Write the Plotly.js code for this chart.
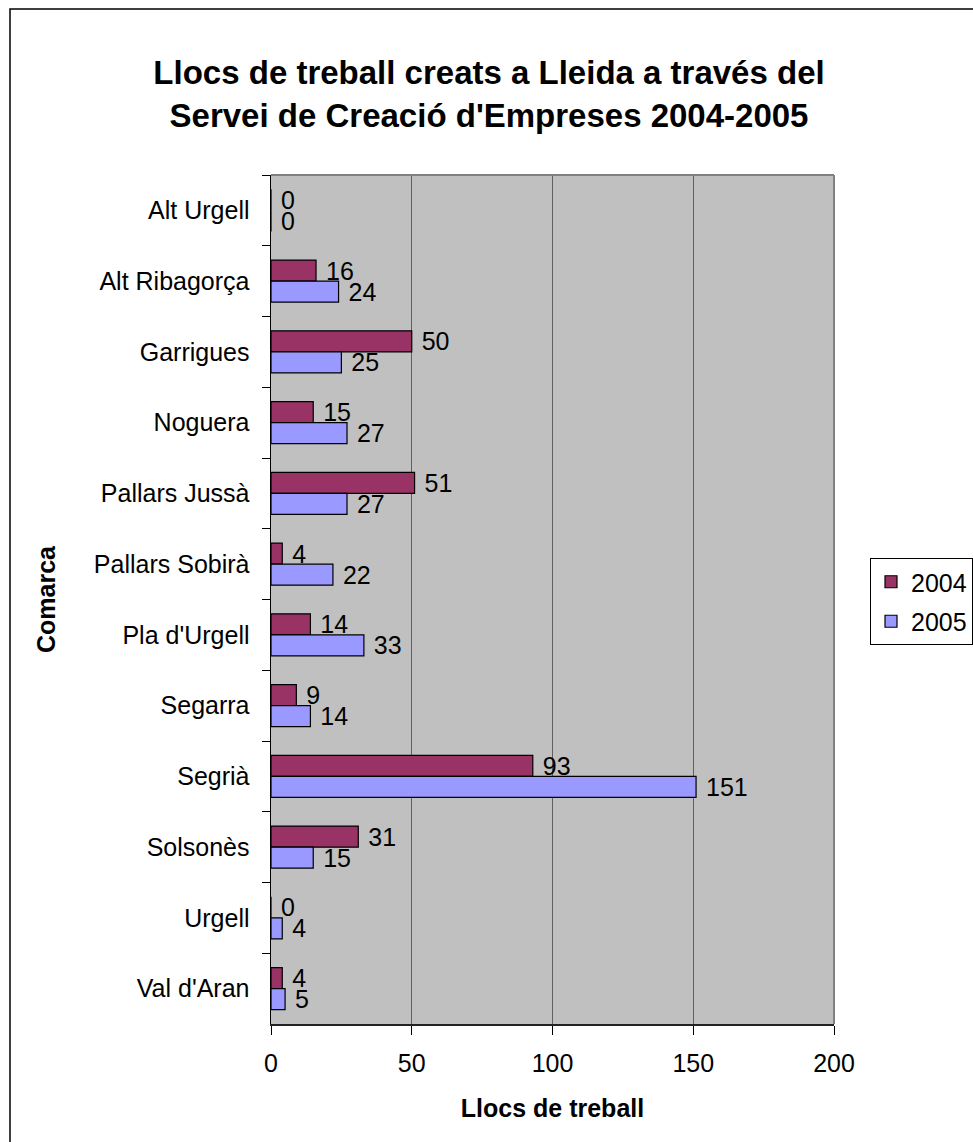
<!DOCTYPE html>
<html>
<head>
<meta charset="utf-8">
<script src="https://cdn.plot.ly/plotly-3.0.1.min.js"></script>
<style>
  html, body { margin: 0; padding: 0; background: #ffffff; }
  #chart { width: 973px; height: 1142px; }
</style>
</head>
<body>
<div id="chart"></div>
<script>
const comarques = ["Alt Urgell", "Alt Ribagorça", "Garrigues", "Noguera", "Pallars Jussà", "Pallars Sobirà", "Pla d'Urgell", "Segarra", "Segrià", "Solsonès", "Urgell", "Val d'Aran"];
const llocs2004 = [0, 16, 50, 15, 51, 4, 14, 9, 93, 31, 0, 4];
const llocs2005 = [0, 24, 25, 27, 27, 22, 33, 14, 151, 15, 4, 5];
const seriesNames = ["2004", "2005"];
const xTicks = [0, 50, 100, 150, 200];

const FONT = "Arial, 'Liberation Sans', sans-serif";

function barTrace(name, values, color, group) {
  return {
    type: "bar",
    orientation: "h",
    name: name,
    y: comarques,
    x: values,
    legendgroup: group,
    marker: { color: color, line: { color: "#000000", width: 1.2 } },
    text: values.map(v => String(v)),
    texttemplate: "\u00a0%{text}",
    textposition: "outside",
    constraintext: "none",
    cliponaxis: false,
    textfont: { family: FONT, size: 25, color: "#000000" },
    hoverinfo: "x+y+name"
  };
}

const data = [
  barTrace(seriesNames[0], llocs2004, "#993366", "g1"),
  barTrace(seriesNames[1], llocs2005, "#9999FF", "g2")
];

// plot area: x 271..834 px, y 175..1024 px ; paper spans 271..973
const PAPER_W = 973 - 271;
const PLOT_W = 834 - 271;

const layout = {
  width: 973,
  height: 1142,
  margin: { l: 271, r: 0, t: 175, b: 118 },
  paper_bgcolor: "#ffffff",
  plot_bgcolor: "#C0C0C0",
  font: { family: FONT, size: 25, color: "#000000" },
  barmode: "group",
  bargap: 0.406,
  bargroupgap: 0,
  title: {
    text: "<b>Llocs de treball creats a Lleida a través del<br>Servei de Creació d'Empreses 2004-2005</b>",
    font: { family: FONT, size: 33, color: "#000000" },
    x: 0.5026, xref: "container", xanchor: "center",
    y: 1 - 84 / 1142, yref: "container", yanchor: "middle"
  },
  xaxis: {
    domain: [0, PLOT_W / PAPER_W],
    range: [0, 200],
    tickvals: xTicks,
    ticktext: xTicks.map(String),
    showgrid: true,
    gridcolor: "#606060",
    gridwidth: 1,
    zeroline: false,
    showline: true,
    linecolor: "#222222",
    linewidth: 1.5,
    ticks: "outside",
    ticklen: 9,
    tickcolor: "#000000",
    tickwidth: 1,
    ticklabelstandoff: 7,
    tickfont: { family: FONT, size: 25, color: "#000000" },
    title: {
      text: "<b>Llocs de treball</b>",
      font: { family: FONT, size: 25, color: "#000000" },
      standoff: 24
    },
    fixedrange: true
  },
  yaxis: {
    type: "category",
    categoryorder: "array",
    categoryarray: comarques,
    autorange: "reversed",
    showgrid: false,
    zeroline: false,
    showline: true,
    linecolor: "#000000",
    linewidth: 1.5,
    ticks: "outside",
    tickson: "boundaries",
    ticklen: 8,
    tickcolor: "#000000",
    tickwidth: 1,
    ticklabelstandoff: 15,
    tickfont: { family: FONT, size: 25, color: "#000000" },
    title: {
      text: "<b>Comarca</b>",
      font: { family: FONT, size: 25, color: "#000000" },
      standoff: 31
    },
    fixedrange: true
  },
  legend: {
    x: 1, xanchor: "right",
    y: (1024 - 558) / 849, yanchor: "top",
    bgcolor: "#ffffff",
    bordercolor: "#000000",
    borderwidth: 1,
    font: { family: FONT, size: 25, color: "#000000" },
    traceorder: "grouped",
    tracegroupgap: 4,
    itemwidth: 30
  },
  shapes: [
    { type: "line", xref: "x domain", yref: "y domain", x0: 0, x1: 1, y0: 1, y1: 1, line: { color: "#808080", width: 2 }, layer: "above" },
    { type: "line", xref: "x domain", yref: "y domain", x0: 1, x1: 1, y0: 0, y1: 1, line: { color: "#808080", width: 2 }, layer: "above" },
    { type: "rect", xref: "paper", yref: "paper", x0: (10 - 271) / PAPER_W, x1: 1.2, y0: -0.3, y1: (1024 - 9) / 849, line: { color: "#000000", width: 1.5 }, fillcolor: "rgba(0,0,0,0)", layer: "above" }
  ],
  showlegend: true
};

Plotly.newPlot("chart", data, layout, { displayModeBar: false, staticPlot: true });
</script>
</body>
</html>
